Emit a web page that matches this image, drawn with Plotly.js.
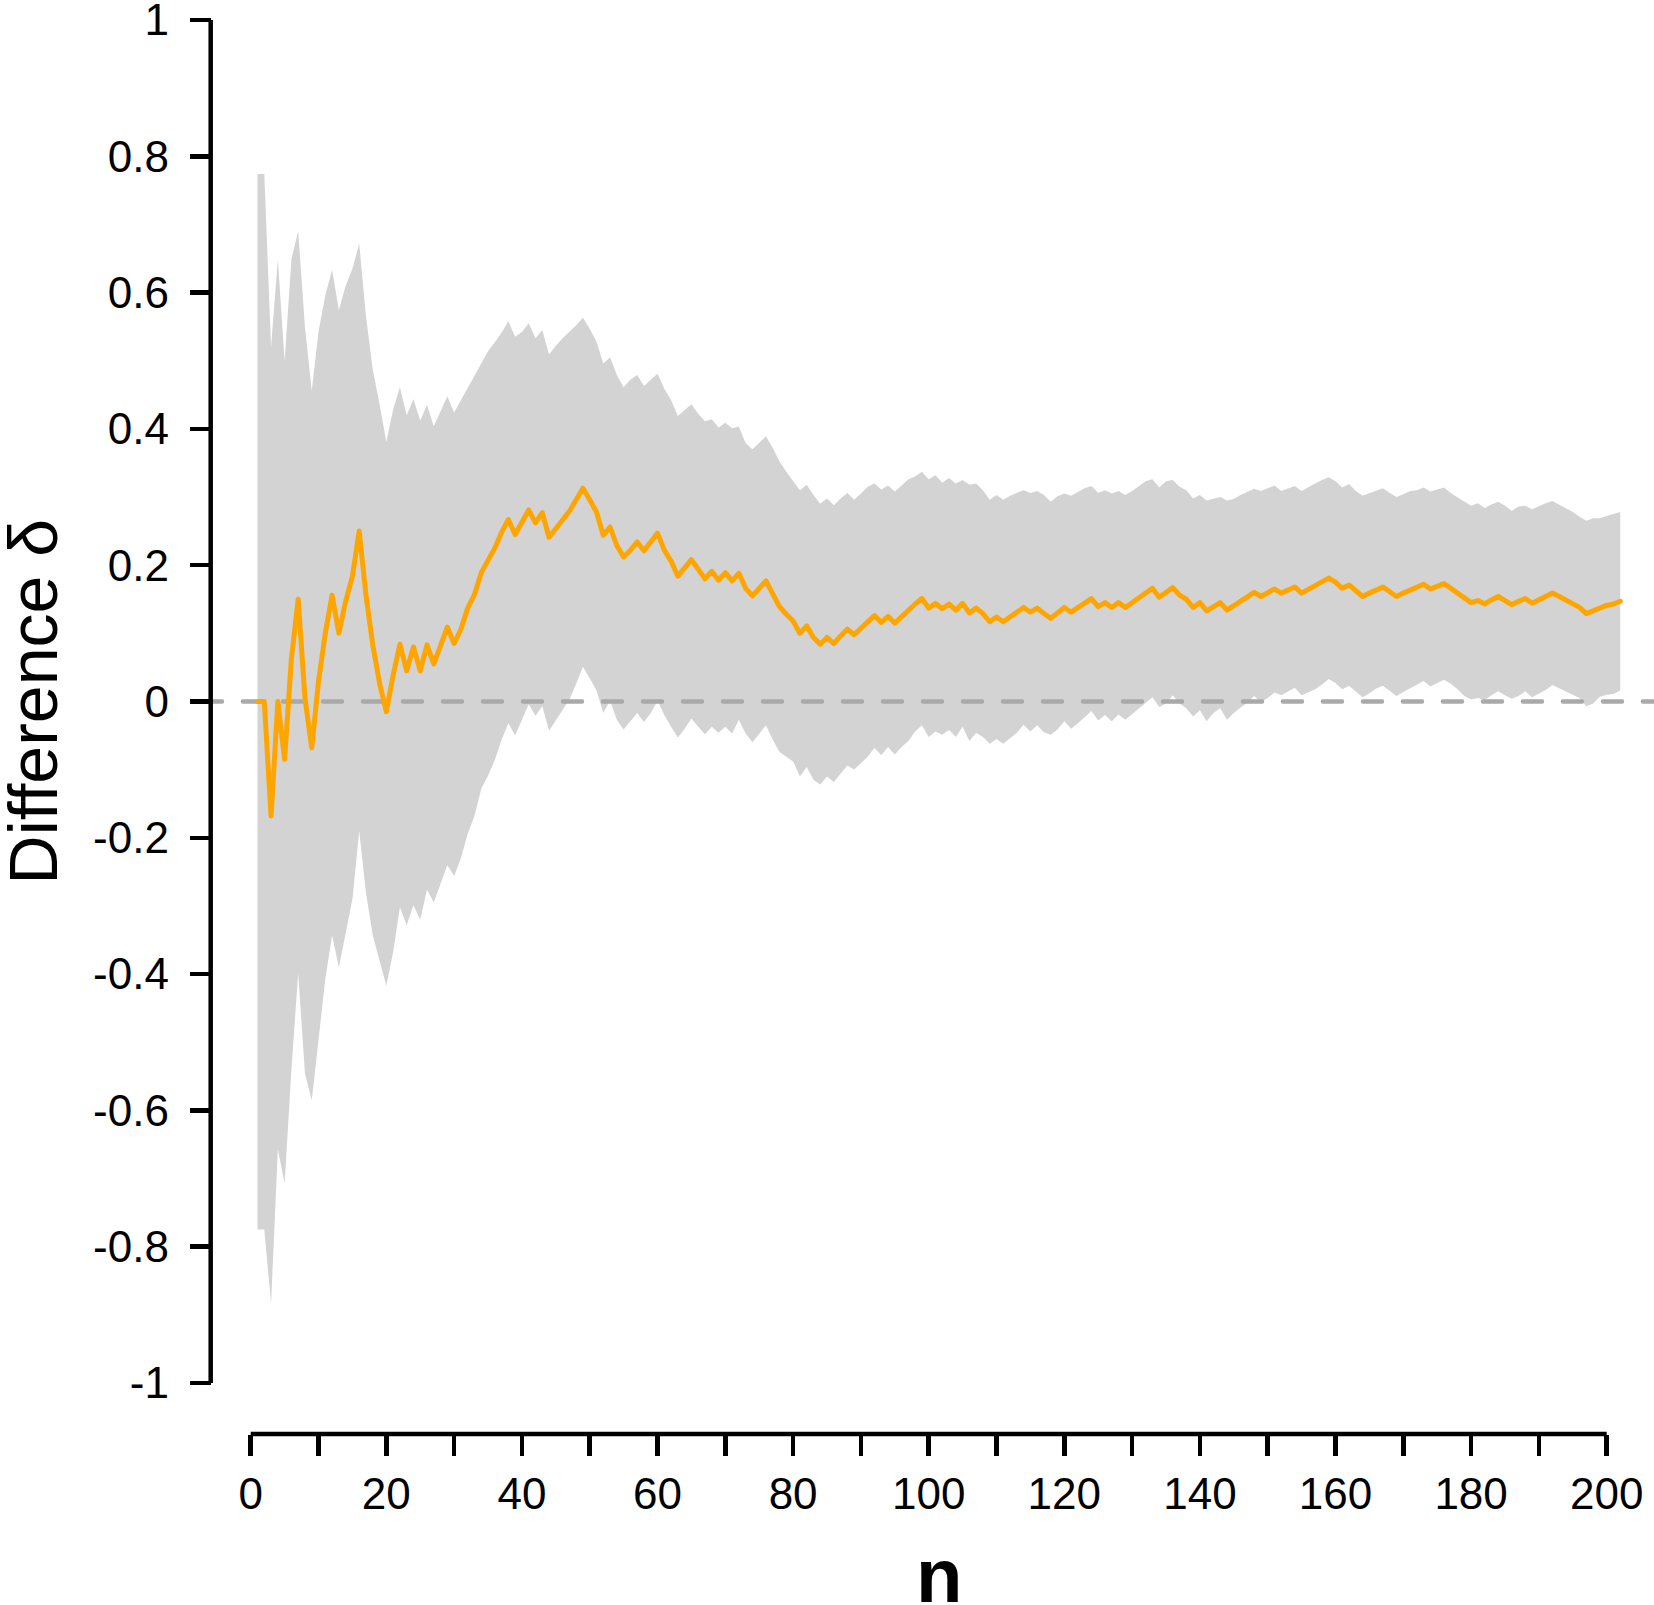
<!DOCTYPE html>
<html>
<head>
<meta charset="utf-8">
<script src="https://cdn.plot.ly/plotly-3.0.1.min.js"></script>
<style>
  html, body { margin: 0; padding: 0; background: #fff; }
  #chart { width: 1654px; height: 1605px; }
  .js-line { stroke-linejoin: round; stroke-linecap: round; }
</style>
</head>
<body>
<div id="chart"></div>
<script>
// running difference delta for n = 1..202
const delta = [
  0, 0, -0.168, 0, -0.085, 0.063, 0.150, 0.005, -0.068, 0.030,
  0.100, 0.156, 0.100, 0.147, 0.184, 0.250, 0.156, 0.083, 0.027, -0.015,
  0.038, 0.084, 0.045, 0.080, 0.045, 0.083, 0.055, 0.081, 0.109, 0.085,
  0.106, 0.137, 0.157, 0.189, 0.207, 0.225, 0.248, 0.267, 0.245, 0.263,
  0.281, 0.262, 0.277, 0.241, 0.253, 0.266, 0.279, 0.296, 0.313, 0.296,
  0.278, 0.244, 0.256, 0.229, 0.212, 0.222, 0.234, 0.221, 0.234, 0.247,
  0.222, 0.206, 0.184, 0.196, 0.208, 0.194, 0.180, 0.191, 0.178, 0.189,
  0.177, 0.188, 0.166, 0.155, 0.166, 0.177, 0.158, 0.139, 0.128, 0.118,
  0.100, 0.111, 0.094, 0.084, 0.094, 0.085, 0.096, 0.106, 0.098, 0.107,
  0.117, 0.126, 0.116, 0.125, 0.115, 0.125, 0.134, 0.143, 0.151, 0.137,
  0.144, 0.136, 0.143, 0.134, 0.144, 0.130, 0.137, 0.129, 0.117, 0.124,
  0.117, 0.124, 0.130, 0.138, 0.131, 0.137, 0.129, 0.122, 0.130, 0.138,
  0.131, 0.138, 0.145, 0.151, 0.139, 0.145, 0.138, 0.145, 0.138, 0.145,
  0.153, 0.160, 0.166, 0.153, 0.160, 0.167, 0.156, 0.150, 0.138, 0.145,
  0.133, 0.140, 0.145, 0.134, 0.140, 0.147, 0.153, 0.160, 0.154, 0.159,
  0.165, 0.159, 0.164, 0.168, 0.159, 0.164, 0.169, 0.175, 0.181, 0.175,
  0.166, 0.171, 0.162, 0.154, 0.159, 0.164, 0.168, 0.161, 0.154, 0.159,
  0.164, 0.167, 0.172, 0.165, 0.169, 0.173, 0.166, 0.159, 0.151, 0.145,
  0.148, 0.143, 0.149, 0.154, 0.148, 0.142, 0.147, 0.151, 0.144, 0.149,
  0.154, 0.159, 0.154, 0.149, 0.144, 0.138, 0.129, 0.133, 0.138, 0.141,
  0.143, 0.147
];

// upper edge of the grey band
const upper = [
  0.774, 0.774, 0.520, 0.649, 0.499, 0.649, 0.690, 0.549, 0.456, 0.543,
  0.596, 0.633, 0.574, 0.610, 0.635, 0.672, 0.565, 0.487, 0.436, 0.381,
  0.428, 0.461, 0.420, 0.444, 0.412, 0.435, 0.404, 0.425, 0.448, 0.424,
  0.442, 0.461, 0.478, 0.497, 0.514, 0.527, 0.541, 0.558, 0.535, 0.542,
  0.555, 0.533, 0.545, 0.509, 0.522, 0.533, 0.542, 0.552, 0.563, 0.547,
  0.528, 0.496, 0.505, 0.479, 0.461, 0.472, 0.479, 0.463, 0.472, 0.481,
  0.459, 0.442, 0.419, 0.427, 0.436, 0.422, 0.411, 0.414, 0.402, 0.409,
  0.401, 0.403, 0.379, 0.370, 0.379, 0.389, 0.372, 0.352, 0.337, 0.324,
  0.310, 0.318, 0.303, 0.290, 0.298, 0.288, 0.298, 0.306, 0.296, 0.305,
  0.315, 0.320, 0.311, 0.317, 0.308, 0.317, 0.326, 0.330, 0.337, 0.326,
  0.332, 0.321, 0.328, 0.320, 0.325, 0.318, 0.320, 0.310, 0.296, 0.303,
  0.296, 0.302, 0.306, 0.310, 0.306, 0.309, 0.303, 0.293, 0.301, 0.305,
  0.302, 0.308, 0.313, 0.316, 0.306, 0.310, 0.305, 0.309, 0.303, 0.309,
  0.316, 0.323, 0.326, 0.314, 0.323, 0.325, 0.315, 0.310, 0.298, 0.303,
  0.295, 0.297, 0.300, 0.295, 0.297, 0.303, 0.308, 0.312, 0.309, 0.313,
  0.317, 0.309, 0.313, 0.316, 0.309, 0.315, 0.320, 0.325, 0.329, 0.323,
  0.314, 0.319, 0.309, 0.302, 0.306, 0.309, 0.313, 0.306, 0.300, 0.304,
  0.309, 0.310, 0.314, 0.308, 0.311, 0.314, 0.306, 0.300, 0.294, 0.287,
  0.291, 0.284, 0.289, 0.293, 0.287, 0.280, 0.286, 0.287, 0.282, 0.287,
  0.291, 0.294, 0.289, 0.283, 0.278, 0.271, 0.265, 0.269, 0.269, 0.272,
  0.275, 0.278
];

// lower edge of the grey band
const lower = [
  -0.775, -0.775, -0.883, -0.657, -0.707, -0.540, -0.399, -0.546, -0.585, -0.491,
  -0.407, -0.343, -0.390, -0.340, -0.290, -0.190, -0.281, -0.343, -0.379, -0.417,
  -0.368, -0.302, -0.328, -0.299, -0.320, -0.276, -0.295, -0.266, -0.240, -0.256,
  -0.230, -0.194, -0.168, -0.128, -0.109, -0.086, -0.056, -0.032, -0.050, -0.027,
  -0.004, -0.021, -0.007, -0.043, -0.028, -0.012, 0.003, 0.026, 0.051, 0.034,
  0.016, -0.017, 0.001, -0.027, -0.041, -0.029, -0.017, -0.030, -0.017, 0.001,
  -0.020, -0.037, -0.053, -0.040, -0.025, -0.037, -0.048, -0.037, -0.046, -0.037,
  -0.047, -0.027, -0.047, -0.060, -0.047, -0.035, -0.056, -0.074, -0.081, -0.088,
  -0.110, -0.096, -0.115, -0.122, -0.110, -0.118, -0.106, -0.094, -0.100, -0.091,
  -0.081, -0.068, -0.079, -0.067, -0.078, -0.067, -0.058, -0.044, -0.035, -0.052,
  -0.044, -0.049, -0.042, -0.052, -0.037, -0.058, -0.046, -0.052, -0.062, -0.055,
  -0.062, -0.054, -0.046, -0.034, -0.044, -0.035, -0.045, -0.049, -0.041, -0.029,
  -0.040, -0.032, -0.023, -0.014, -0.028, -0.020, -0.029, -0.019, -0.027, -0.019,
  -0.010, -0.003, 0.006, -0.008, -0.003, 0.009, -0.003, -0.010, -0.022, -0.013,
  -0.029, -0.017, -0.010, -0.027, -0.017, -0.009, -0.002, 0.008, -0.001, 0.005,
  0.013, 0.009, 0.015, 0.020, 0.009, 0.013, 0.018, 0.025, 0.033, 0.027,
  0.018, 0.023, 0.015, 0.006, 0.012, 0.019, 0.023, 0.016, 0.008, 0.014,
  0.019, 0.024, 0.030, 0.022, 0.027, 0.032, 0.026, 0.018, 0.008, 0.003,
  0.005, 0.002, 0.009, 0.015, 0.009, 0.004, 0.008, 0.015, 0.006, 0.011,
  0.017, 0.024, 0.019, 0.015, 0.010, 0.005, -0.007, -0.003, 0.007, 0.010,
  0.011, 0.016
];

const xTickVals = [0, 10, 20, 30, 40, 50, 60, 70, 80, 90, 100, 110, 120, 130, 140, 150, 160, 170, 180, 190, 200];
const xTickText = ["0", "", "20", "", "40", "", "60", "", "80", "", "100", "", "120", "", "140", "", "160", "", "180", "", "200"];
const yTickVals = [-1, -0.8, -0.6, -0.4, -0.2, 0, 0.2, 0.4, 0.6, 0.8, 1];
const yTickText = ["-1", "-0.8", "-0.6", "-0.4", "-0.2", "0", "0.2", "0.4", "0.6", "0.8", "1"];

const n = delta.map((_, i) => i + 1);

const FONT = "Liberation Sans, Arial, sans-serif";
const xRange = [-7.04, 206.98];
const yRange = [-1.0749, 1.0293];
const yAxisPos = 0.0053;

const traces = [
  // band: lower edge, then upper filled down to it
  { x: n, y: lower, type: "scatter", mode: "lines", line: { width: 0, color: "#d3d3d3" }, hoverinfo: "skip", showlegend: false },
  { x: n, y: upper, type: "scatter", mode: "lines", fill: "tonexty", fillcolor: "#d3d3d3",
    line: { width: 0, color: "#d3d3d3" }, hoverinfo: "skip", showlegend: false },
  // zero reference
  { x: xRange, y: [0, 0], type: "scatter", mode: "lines",
    line: { color: "#a9a9a9", width: 4.5, dash: "19px,21px" }, hoverinfo: "skip", showlegend: false },
  // delta
  { x: n, y: delta, type: "scatter", mode: "lines", line: { color: "#ffa500", width: 5 }, showlegend: false }
];

const layout = {
  width: 1654, height: 1605,
  margin: { l: 203, r: 0, t: 0, b: 171 },
  paper_bgcolor: "#fff", plot_bgcolor: "#fff",
  showlegend: false,
  font: { family: FONT, color: "#000" },
  xaxis: {
    range: xRange, tickmode: "array", tickvals: xTickVals, ticktext: xTickText,
    ticks: "outside", ticklen: 21, tickwidth: 4.5, tickcolor: "#000",
    showline: false, showgrid: false, zeroline: false,
    ticklabeloverflow: "allow",
    tickfont: { family: FONT, size: 44, color: "#000" }
  },
  yaxis: {
    range: yRange, anchor: "free", position: yAxisPos,
    tickmode: "array", tickvals: yTickVals, ticktext: yTickText,
    ticks: "outside", ticklen: 21, tickwidth: 4.5, tickcolor: "#000",
    showline: false, showgrid: false, zeroline: false,
    ticklabeloverflow: "allow", ticklabelstandoff: 12,
    tickfont: { family: FONT, size: 44, color: "#000" }
  },
  shapes: [
    { type: "line", xref: "paper", yref: "y", x0: yAxisPos, x1: yAxisPos, y0: -1, y1: 1, line: { color: "#000", width: 4.5 } },
    { type: "line", xref: "x", yref: "paper", x0: 0, x1: 200, y0: 0, y1: 0, line: { color: "#000", width: 4.5 } }
  ],
  annotations: [
    { text: "Difference δ", xref: "paper", yref: "y", x: -0.1165, y: 0, textangle: -90,
      xanchor: "center", yanchor: "middle", showarrow: false, font: { family: FONT, size: 68, color: "#000" } },
    { text: "<b>n</b>", xref: "paper", yref: "paper", x: 0.5072, y: -0.0988,
      xanchor: "center", yanchor: "middle", showarrow: false, font: { family: FONT, size: 76, color: "#000" } }
  ]
};

Plotly.newPlot("chart", traces, layout, { staticPlot: true, displayModeBar: false });
</script>
</body>
</html>
